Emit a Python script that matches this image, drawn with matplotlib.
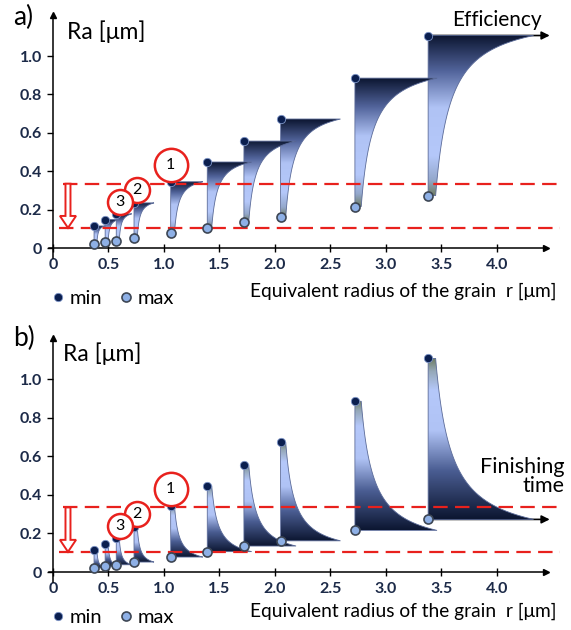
import numpy as np
import matplotlib.pyplot as plt
from matplotlib.colors import LinearSegmentedColormap
from matplotlib.patches import Polygon, FancyArrow

plt.rcParams['font.family'] = ['Lato', 'DejaVu Sans']

# grain radius r [um] and Ra [um]
radius = [0.37, 0.47, 0.57, 0.73, 1.06, 1.39, 1.72, 2.05, 2.72, 3.38]
ra_min = [0.115, 0.148, 0.178, 0.235, 0.345, 0.448, 0.557, 0.672, 0.885, 1.107]
ra_max = [0.022, 0.030, 0.038, 0.052, 0.078, 0.106, 0.135, 0.162, 0.216, 0.273]
spread = [0.10, 0.12, 0.14, 0.18, 0.29, 0.40, 0.47, 0.54, 0.74, 0.95]

limit_hi = 0.335
limit_lo = 0.105

mark_x = [1.06, 0.76, 0.60]
mark_y = [0.43, 0.30, 0.24]
mark_txt = ['1', '2', '3']
mark_size = [24, 18, 18]

xticks = [0, 0.5, 1.0, 1.5, 2.0, 2.5, 3.0, 3.5, 4.0]
xtick_labels = ['0', '0.5', '1.0', '1.5', '2.0', '2.5', '3.0', '3.5', '4.0']
yticks = [0, 0.2, 0.4, 0.6, 0.8, 1.0]
ytick_labels = ['0', '0.2', '0.4', '0.6', '0.8', '1.0']

cmap_a = LinearSegmentedColormap.from_list('a', [
    (0, '#6e7c60'), (0.1, '#94a8cc'), (0.25, '#b5c8fa'), (0.55, '#b0c3f5'),
    (0.78, '#51639a'), (1, '#0c1631')])
cmap_b = LinearSegmentedColormap.from_list('b', [
    (0, '#0c1631'), (0.3, '#4a5d92'), (0.55, '#b0c3f5'), (0.8, '#b5c8fa'),
    (0.92, '#95a8b8'), (1, '#6e7c60')])

red = '#e8211d'
navy = '#1c2a48'


def draw_shape(ax, x0, top, bot, w, mode, z):
    stem = 0.02 + 0.05 * w
    s = np.linspace(0, 1, 80)
    if mode == 'a':
        c = 0.15
        g = (c / (s + c) - c / (1 + c)) / (1 - c / (1 + c))
        ys = top - s * (top - bot)
        pts = [(x0, bot), (x0, top)] + list(zip(x0 + stem + (w - stem) * g, ys)) + [(x0 + stem, bot)]
        cmap = cmap_a
    else:
        c = 0.16
        g = (c / (s + c) - c / (1 + c)) / (1 - c / (1 + c))
        ys = bot + s * (top - bot)
        pts = [(x0, top), (x0, bot)] + list(zip(x0 + stem + (w - stem) * g, ys)) + [(x0 + stem, top)]
        cmap = cmap_b
    poly = Polygon(pts, closed=True, facecolor='none', edgecolor='#5b6b99', lw=0.6, zorder=z + 0.1)
    ax.add_patch(poly)
    grad = np.linspace(0, 1, 256).reshape(-1, 1)
    im = ax.imshow(grad, extent=[x0, x0 + w, bot, top], origin='lower', cmap=cmap,
                   aspect='auto', zorder=z, interpolation='bilinear')
    im.set_clip_path(poly)


def draw_panel(ax, mode):
    ax.set_xlim(-0.4775, 4.667)
    if mode == 'a':
        ax.set_ylim(-0.349, 1.292)
    else:
        ax.set_ylim(-0.30, 1.332)

    for sp in ['top', 'right']:
        ax.spines[sp].set_visible(False)
    ax.spines['left'].set_position(('data', 0))
    ax.spines['bottom'].set_position(('data', 0))
    ax.spines['left'].set_bounds(-0.05, 1.2)
    ax.spines['bottom'].set_bounds(-0.04, 4.42)
    for sp in ['left', 'bottom']:
        ax.spines[sp].set_linewidth(1.1)
    ax.plot(0, 1.215, '^k', ms=5, clip_on=False)
    ax.plot(4.44, 0, '>k', ms=5, clip_on=False)

    ax.set_xticks(xticks, xtick_labels)
    ax.set_yticks(yticks, ytick_labels)
    ax.tick_params(axis='y', direction='out', length=4, width=1, pad=4,
                   labelsize=11.5, labelcolor=navy)
    ax.tick_params(axis='x', direction='inout', length=6, width=1, pad=4,
                   labelsize=11.5, labelcolor=navy)
    for lab in ax.get_xticklabels() + ax.get_yticklabels():
        lab.set_fontweight('bold')

    n = len(radius)
    for i in range(n):
        draw_shape(ax, radius[i], ra_min[i], ra_max[i], spread[i], mode, 3 + (n - i) * 0.2)

    ax.plot(radius, ra_min, 'o', ms=6, mfc='#0b1f4f', mec='#7f96c8', mew=0.6,
            zorder=8, label='min')
    ax.plot(radius, ra_max, 'o', ms=6.5, mfc='#8eb0e6', mec='#3d4654', mew=1.2,
            zorder=8, label='max')

    ax.plot([0.09, 4.57], [limit_hi, limit_hi], color=red, lw=1.6,
            ls=(0, (6.5, 3.3)), zorder=7)
    ax.plot([0.05, 4.57], [limit_lo, limit_lo], color=red, lw=1.6,
            ls=(0, (6.5, 3.3)), zorder=7)
    ax.add_patch(FancyArrow(0.135, limit_hi, 0, limit_lo - limit_hi, width=0.045,
                            head_width=0.145, head_length=0.062,
                            length_includes_head=True, facecolor='white',
                            edgecolor=red, lw=1.4, zorder=9))

    for x, y, t, ms in zip(mark_x, mark_y, mark_txt, mark_size):
        ax.plot(x, y, 'o', ms=ms, mfc='white', mec=red, mew=1.8, zorder=10)
        ax.text(x, y, t, ha='center', va='center', fontsize=11.5,
                color='black', zorder=11)

    if mode == 'a':
        ax.annotate('', xy=(4.5, ra_min[-1]), xytext=(radius[-1], ra_min[-1]),
                    arrowprops=dict(arrowstyle='-|>', color='black', lw=1.2,
                                    mutation_scale=12), zorder=2)
        ax.text(4.0, 1.19, 'Efficiency', ha='center', va='center', fontsize=15)
        ax.text(-0.36, 1.2, 'a)', ha='left', va='center', fontsize=19)
        ax.text(0.126, 1.125, 'Ra [μm]', ha='left', va='center', fontsize=16.5)
        xl_y, lg_y = -0.225, -0.265
    else:
        ax.annotate('', xy=(4.5, ra_max[-1]), xytext=(radius[-1], ra_max[-1]),
                    arrowprops=dict(arrowstyle='-|>', color='black', lw=1.2,
                                    mutation_scale=12), zorder=2)
        ax.text(4.61, 0.497, 'Finishing\ntime', ha='right', va='center',
                fontsize=15.5, linespacing=0.95)
        ax.text(-0.36, 1.21, 'b)', ha='left', va='center', fontsize=19)
        ax.text(0.09, 1.13, 'Ra [μm]', ha='left', va='center', fontsize=16.5)
        xl_y, lg_y = -0.205, -0.235

    ax.text(3.16, xl_y, 'Equivalent radius of the grain  r [μm]', ha='center',
            va='center', fontsize=13.8)
    ax.legend(loc='center left', bbox_to_anchor=(0.0, lg_y),
              bbox_transform=ax.transData, ncol=2, frameon=False, fontsize=14.5,
              handlelength=0.5, handletextpad=0.35, columnspacing=0.9,
              borderpad=0, borderaxespad=0)


fig = plt.figure(figsize=(5.71, 6.3), dpi=100)
ax_a = fig.add_axes([0, 0.5, 1, 0.5])
ax_b = fig.add_axes([0, 0, 1, 0.5])
draw_panel(ax_a, 'a')
draw_panel(ax_b, 'b')

fig.savefig('out.png', dpi=100)
